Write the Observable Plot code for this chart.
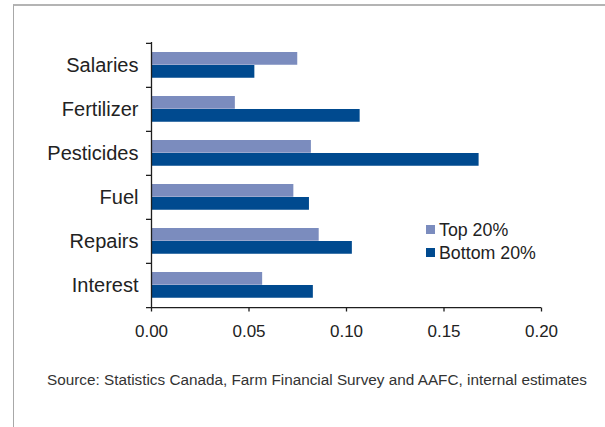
<!DOCTYPE html>
<html><head><meta charset="utf-8">
<script src="https://cdn.jsdelivr.net/npm/d3@7"></script>
<script src="https://cdn.jsdelivr.net/npm/@observablehq/plot@0.6"></script>
<style>
body{margin:0;background:#fff;font-family:"Liberation Sans",Arial,sans-serif;}
#wrap{position:relative;width:605px;height:427px;overflow:hidden;background:#fff;}
#border{position:absolute;left:13px;top:4px;right:-2px;bottom:-2px;border-left:1.5px solid #a8a8a8;border-top:2px solid #b4b4b4;}
#chart{position:absolute;left:0;top:0;}
.caption{position:absolute;left:47px;top:372px;font-size:15.3px;line-height:1;color:#333;white-space:nowrap;}
.lrow{position:absolute;left:426px;font-size:17.8px;line-height:1;color:#222;white-space:nowrap;}
.sw{display:inline-block;width:9px;height:8.5px;margin-right:4px;vertical-align:2.5px;}
</style></head>
<body><div id="wrap"><div id="border"></div><div id="chart"></div></div>
<script>
const categories = ["Salaries","Fertilizer","Pesticides","Fuel","Repairs","Interest"];
const series = ["Top 20%","Bottom 20%"];
const top20 = [0.075,0.043,0.082,0.073,0.086,0.057];
const bottom20 = [0.053,0.107,0.168,0.081,0.103,0.083];
const xTicks = [0,0.05,0.10,0.15,0.20];
const colors = ["#7b8cbe","#004a8f"];
const sourceText = "Source: Statistics Canada, Farm Financial Survey and AAFC, internal estimates";

const topRows = categories.map((c,i)=>({category:c, series:series[0], value:top20[i]}));
const bottomRows = categories.map((c,i)=>({category:c, series:series[1], value:bottom20[i]}));

const W = 605, H = 345, mt = 42, mb = 37.5, ml = 151, mr = 64;
const bw = (H - mt - mb) / categories.length;
const pad = 9, barH = 13;
const axisColor = "#1e1e1e";

const chart = Plot.plot({
  width: W, height: H,
  marginTop: mt, marginBottom: mb, marginLeft: ml, marginRight: mr,
  style: {fontFamily: "'Liberation Sans', Arial, sans-serif", color: "#222", background: "transparent", overflow: "visible"},
  x: {domain: [0, 0.2]},
  y: {domain: categories, padding: 0},
  marks: [
    Plot.barX(topRows, {x: "value", y: "category", fill: colors[0], insetTop: pad, insetBottom: bw - pad - barH}),
    Plot.barX(bottomRows, {x: "value", y: "category", fill: colors[1], insetTop: pad + barH, insetBottom: bw - pad - 2*barH}),
    Plot.ruleX([0], {stroke: axisColor, strokeWidth: 1.3}),
    Plot.ruleY(categories, {y: d => d, x1: 0, x2: 0, insetLeft: -5, dy: -bw/2, stroke: axisColor, strokeWidth: 1.3}),
    Plot.ruleY([categories[categories.length-1]], {y: d => d, x1: 0, x2: 0.2, insetLeft: -5, dy: bw/2, stroke: axisColor, strokeWidth: 1.3}),
    Plot.axisY({tickSize: 0, tickPadding: 13, fontSize: 20, label: null}),
    Plot.axisX({ticks: xTicks, tickFormat: d3.format(".2f"), tickSize: 4, tickPadding: 13, fontSize: 17, stroke: axisColor, strokeWidth: 1.3, label: null})
  ]
});
document.getElementById("chart").appendChild(chart);

const wrap = document.getElementById("wrap");
const cap = document.createElement("div");
cap.className = "caption";
cap.textContent = sourceText;
wrap.appendChild(cap);

const legendTops = [222.3, 245];
series.forEach((s,i)=>{
  const row = document.createElement("div");
  row.className = "lrow";
  row.style.top = legendTops[i] + "px";
  const sw = document.createElement("span");
  sw.className = "sw";
  sw.style.background = colors[i];
  row.appendChild(sw);
  row.appendChild(document.createTextNode(s));
  wrap.appendChild(row);
});
</script>
</body></html>
